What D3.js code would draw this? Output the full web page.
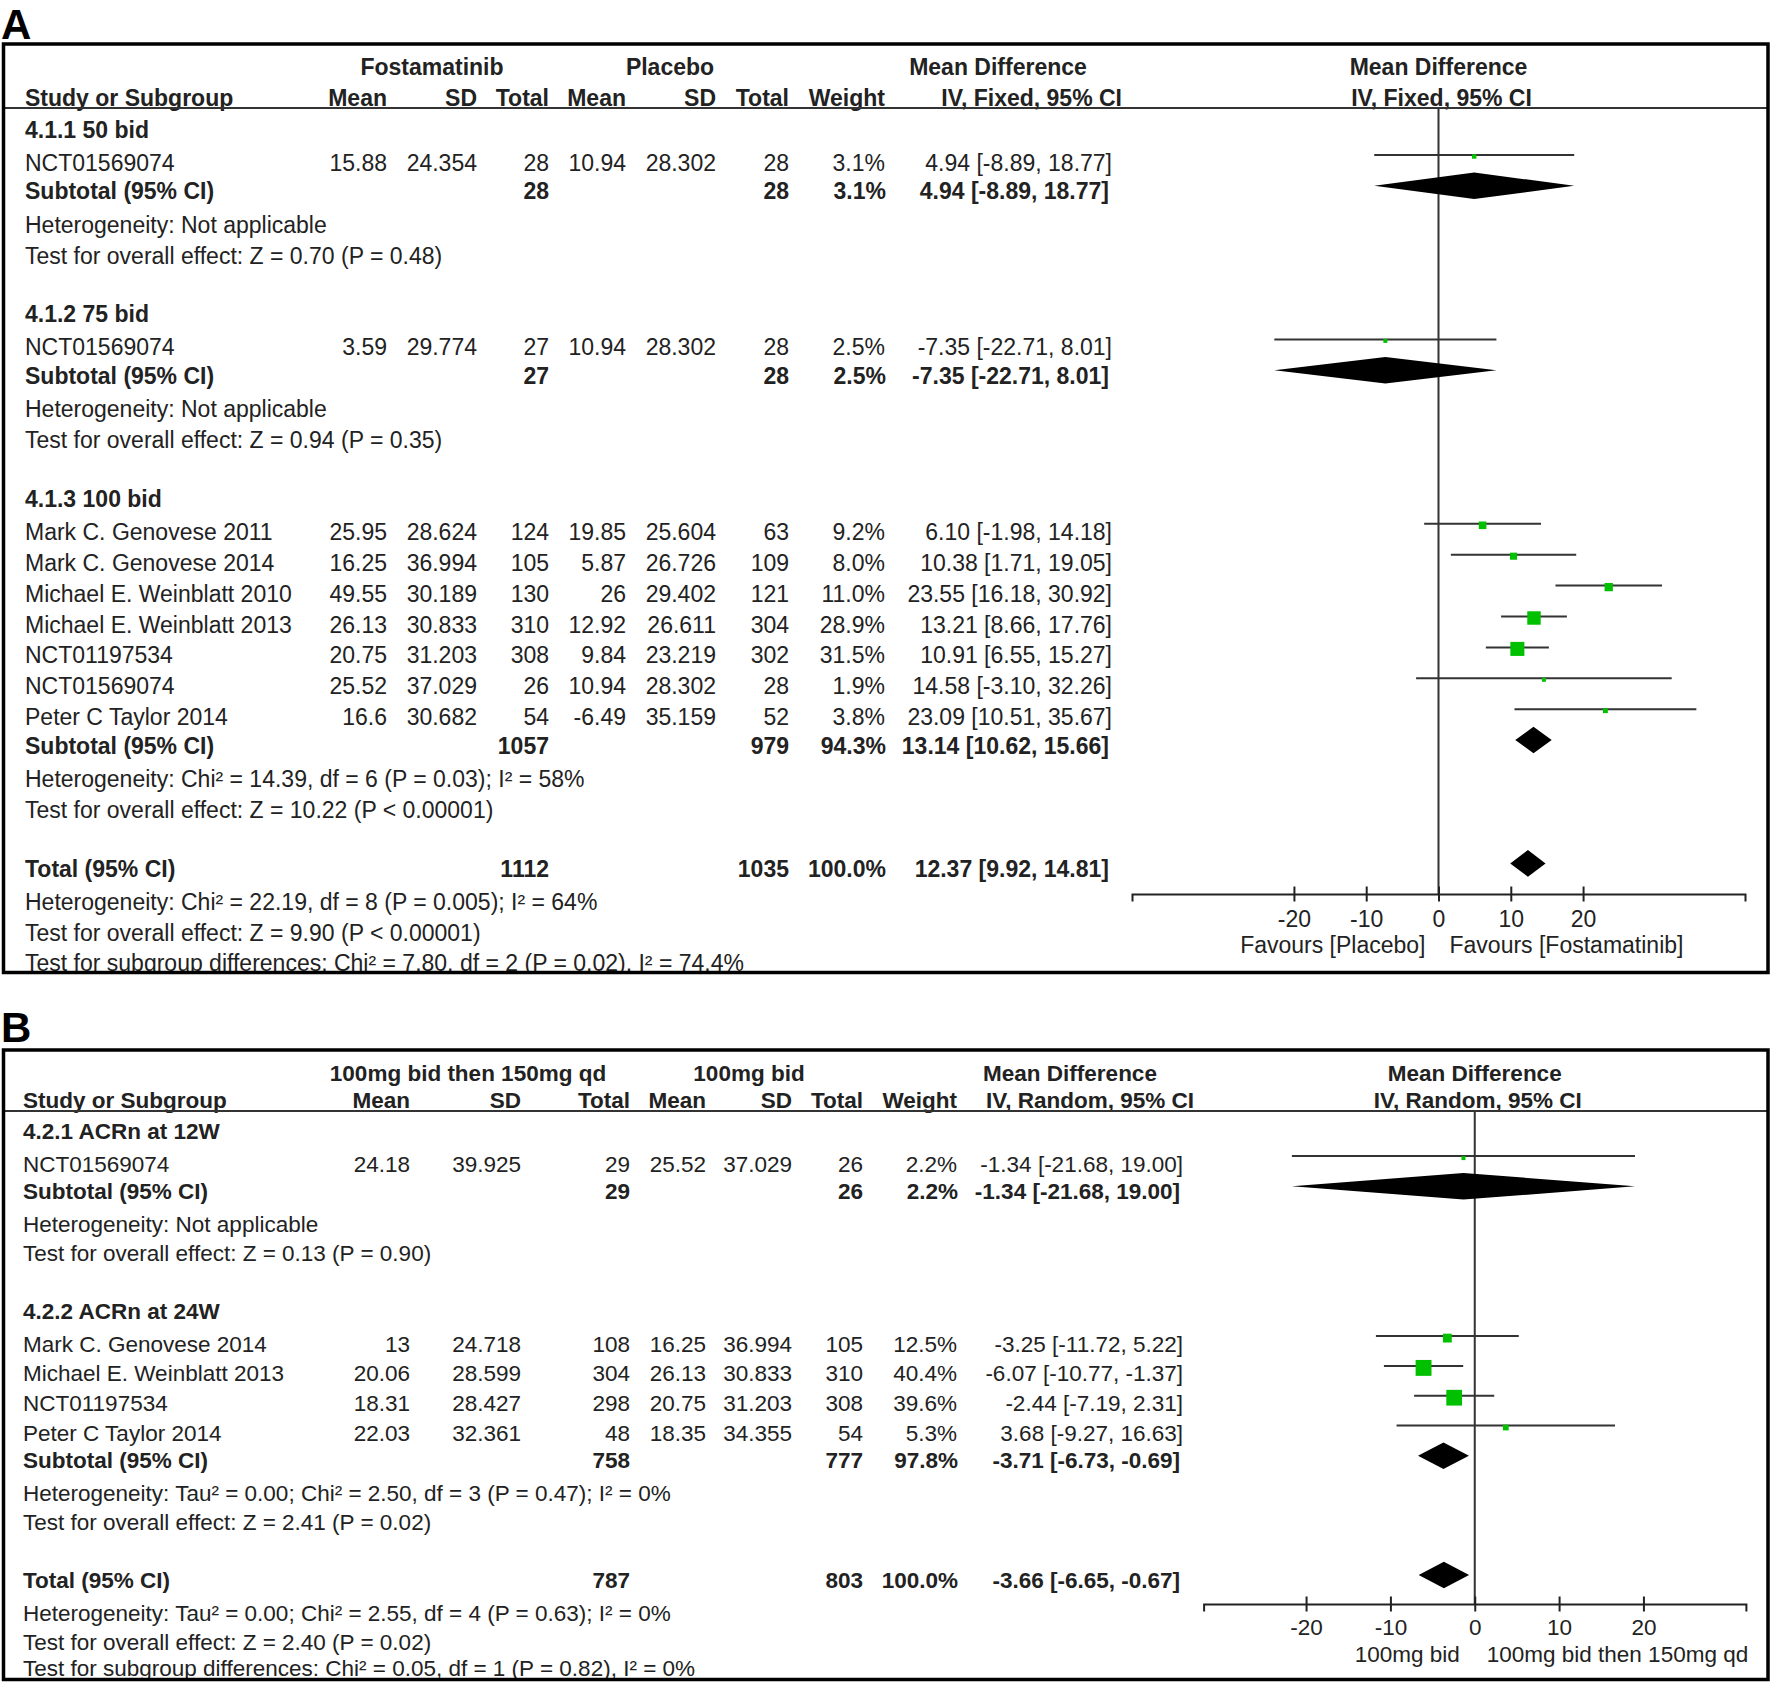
<!DOCTYPE html>
<html>
<head>
<meta charset="utf-8">
<script src="https://cdn.jsdelivr.net/npm/d3@7"></script>
<style>
  body { margin: 0; background: #fff; }
</style>
</head>
<body>
<script>
const W = 1772, H = 1684;
const FONT = "'Liberation Sans', Arial, Helvetica, sans-serif";
const TEXT = "#222";
const GREEN = "#00c000";

// ---------- Panel A: Fostamatinib vs Placebo (IV, Fixed) ----------
const groupsA = ["4.1.1 50 bid", "4.1.2 75 bid", "4.1.3 100 bid"];
const studyA = ["NCT01569074", "NCT01569074", "Mark C. Genovese 2011", "Mark C. Genovese 2014",
  "Michael E. Weinblatt 2010", "Michael E. Weinblatt 2013", "NCT01197534", "NCT01569074", "Peter C Taylor 2014"];
const groupOfA = [0, 1, 2, 2, 2, 2, 2, 2, 2];
const expMeanA = [15.88, 3.59, 25.95, 16.25, 49.55, 26.13, 20.75, 25.52, 16.6];
const expSdA = [24.354, 29.774, 28.624, 36.994, 30.189, 30.833, 31.203, 37.029, 30.682];
const expNA = [28, 27, 124, 105, 130, 310, 308, 26, 54];
const ctlMeanA = [10.94, 10.94, 19.85, 5.87, 26, 12.92, 9.84, 10.94, -6.49];
const ctlSdA = [28.302, 28.302, 25.604, 26.726, 29.402, 26.611, 23.219, 28.302, 35.159];
const ctlNA = [28, 28, 63, 109, 121, 304, 302, 28, 52];
const weightA = [3.1, 2.5, 9.2, 8.0, 11.0, 28.9, 31.5, 1.9, 3.8];
const mdA = [4.94, -7.35, 6.10, 10.38, 23.55, 13.21, 10.91, 14.58, 23.09];
const loA = [-8.89, -22.71, -1.98, 1.71, 16.18, 8.66, 6.55, -3.10, 10.51];
const hiA = [18.77, 8.01, 14.18, 19.05, 30.92, 17.76, 15.27, 32.26, 35.67];
const subExpNA = [28, 27, 1057];
const subCtlNA = [28, 28, 979];
const subWeightA = [3.1, 2.5, 94.3];
const subMdA = [4.94, -7.35, 13.14];
const subLoA = [-8.89, -22.71, 10.62];
const subHiA = [18.77, 8.01, 15.66];
const subHetA = ["Heterogeneity: Not applicable", "Heterogeneity: Not applicable",
  "Heterogeneity: Chi² = 14.39, df = 6 (P = 0.03); I² = 58%"];
const subTestA = ["Test for overall effect: Z = 0.70 (P = 0.48)", "Test for overall effect: Z = 0.94 (P = 0.35)",
  "Test for overall effect: Z = 10.22 (P < 0.00001)"];
const totalA = [1112, 1035, 100.0, 12.37, 9.92, 14.81]; // expN, ctlN, weight, md, lo, hi
const totalHetA = "Heterogeneity: Chi² = 22.19, df = 8 (P = 0.005); I² = 64%";
const totalTestA = "Test for overall effect: Z = 9.90 (P < 0.00001)";
const sgTestA = "Test for subgroup differences: Chi² = 7.80, df = 2 (P = 0.02), I² = 74.4%";
const armsA = ["Fostamatinib", "Placebo"];
const methodA = "IV, Fixed, 95% CI";
const favoursA = ["Favours [Placebo]", "Favours [Fostamatinib]"];
const ticksA = [-20, -10, 0, 10, 20];

// ---------- Panel B: 100mg bid then 150mg qd vs 100mg bid (IV, Random) ----------
const groupsB = ["4.2.1 ACRn at 12W", "4.2.2 ACRn at 24W"];
const studyB = ["NCT01569074", "Mark C. Genovese 2014", "Michael E. Weinblatt 2013", "NCT01197534", "Peter C Taylor 2014"];
const groupOfB = [0, 1, 1, 1, 1];
const expMeanB = [24.18, 13, 20.06, 18.31, 22.03];
const expSdB = [39.925, 24.718, 28.599, 28.427, 32.361];
const expNB = [29, 108, 304, 298, 48];
const ctlMeanB = [25.52, 16.25, 26.13, 20.75, 18.35];
const ctlSdB = [37.029, 36.994, 30.833, 31.203, 34.355];
const ctlNB = [26, 105, 310, 308, 54];
const weightB = [2.2, 12.5, 40.4, 39.6, 5.3];
const mdB = [-1.34, -3.25, -6.07, -2.44, 3.68];
const loB = [-21.68, -11.72, -10.77, -7.19, -9.27];
const hiB = [19.00, 5.22, -1.37, 2.31, 16.63];
const subExpNB = [29, 758];
const subCtlNB = [26, 777];
const subWeightB = [2.2, 97.8];
const subMdB = [-1.34, -3.71];
const subLoB = [-21.68, -6.73];
const subHiB = [19.00, -0.69];
const subHetB = ["Heterogeneity: Not applicable",
  "Heterogeneity: Tau² = 0.00; Chi² = 2.50, df = 3 (P = 0.47); I² = 0%"];
const subTestB = ["Test for overall effect: Z = 0.13 (P = 0.90)", "Test for overall effect: Z = 2.41 (P = 0.02)"];
const totalB = [787, 803, 100.0, -3.66, -6.65, -0.67];
const totalHetB = "Heterogeneity: Tau² = 0.00; Chi² = 2.55, df = 4 (P = 0.63); I² = 0%";
const totalTestB = "Test for overall effect: Z = 2.40 (P = 0.02)";
const sgTestB = "Test for subgroup differences: Chi² = 0.05, df = 1 (P = 0.82), I² = 0%";
const armsB = ["100mg bid then 150mg qd", "100mg bid"];
const methodB = "IV, Random, 95% CI";
const favoursB = ["100mg bid", "100mg bid then 150mg qd"];
const ticksB = [-20, -10, 0, 10, 20];

// ---------- layout ----------
const layoutA = {
  id: "A", letterY: 39, box: [3.5, 44, 1768, 972.5], fontSize: 23,
  head1: 75, head2: 106, sepY: 108,
  labelX: 25, cols: [387, 477, 549, 626, 716, 789, 885, 1112],
  arm1X: 432, arm2X: 670, mdHeadX: 998, methodEnd: 1122,
  xDomain: [-42.4, 42.4], xRange: [1132, 1745], axisY: 894, tickLabelDy: 33, favDy: 59, favGap: [13, 11],
  lineOff: 16, sqOff: 14.5, dmOff: 13.5,
  gaps: { "sep>group": 30, "group>study": 33, "study>study": 30.9, "study>subtotal": 28.3,
    "subtotal>het": 33.2, "het>test": 31.4, "test>group": 58.5, "test>total": 58.8,
    "total>het": 32.7, "test>sgtest": 30.3 }
};
const layoutB = {
  id: "B", letterY: 1042, box: [3.5, 1050, 1768, 1679.5], fontSize: 22.5,
  head1: 1081, head2: 1108, sepY: 1111,
  labelX: 23, cols: [410, 521, 630, 706, 792, 863, 957, 1183],
  arm1X: 468, arm2X: 749, mdHeadX: 1070, methodEnd: 1194,
  xDomain: [-32.15, 32.15], xRange: [1203.6, 1745.9], axisY: 1604, tickLabelDy: 31, favDy: 58, favGap: [15, 12],
  lineOff: 15.5, sqOff: 13.5, dmOff: 12.5,
  gaps: { "sep>group": 28.3, "group>study": 32.3, "study>study": 29.8, "study>subtotal": 27.2,
    "subtotal>het": 32.8, "het>test": 29.2, "test>group": 58.5, "test>total": 57.3,
    "total>het": 33, "test>sgtest": 25.8 }
};

const dataA = { groups: groupsA, study: studyA, groupOf: groupOfA, expMean: expMeanA, expSd: expSdA, expN: expNA,
  ctlMean: ctlMeanA, ctlSd: ctlSdA, ctlN: ctlNA, weight: weightA, md: mdA, lo: loA, hi: hiA,
  subExpN: subExpNA, subCtlN: subCtlNA, subWeight: subWeightA, subMd: subMdA, subLo: subLoA, subHi: subHiA,
  subHet: subHetA, subTest: subTestA, total: totalA, totalHet: totalHetA, totalTest: totalTestA, sgTest: sgTestA,
  arms: armsA, method: methodA, favours: favoursA, ticks: ticksA };
const dataB = { groups: groupsB, study: studyB, groupOf: groupOfB, expMean: expMeanB, expSd: expSdB, expN: expNB,
  ctlMean: ctlMeanB, ctlSd: ctlSdB, ctlN: ctlNB, weight: weightB, md: mdB, lo: loB, hi: hiB,
  subExpN: subExpNB, subCtlN: subCtlNB, subWeight: subWeightB, subMd: subMdB, subLo: subLoB, subHi: subHiB,
  subHet: subHetB, subTest: subTestB, total: totalB, totalHet: totalHetB, totalTest: totalTestB, sgTest: sgTestB,
  arms: armsB, method: methodB, favours: favoursB, ticks: ticksB };

const svg = d3.select("body").append("svg").attr("width", W).attr("height", H);
const defs = svg.append("defs");
const fmtCI = (m, l, h) => `${m.toFixed(2)} [${l.toFixed(2)}, ${h.toFixed(2)}]`;
const fmtW = w => w.toFixed(1) + "%";
const size = d3.scaleSqrt().domain([0, 100]).range([0, 25]);

function drawPanel(L, D) {
  const x = d3.scaleLinear().domain(L.xDomain).range(L.xRange);
  const [bx0, by0, bx1, by1] = L.box;

  // panel letter
  svg.append("text").attr("x", 1).attr("y", L.letterY)
    .attr("font-family", FONT).attr("font-weight", "bold").attr("font-size", 42).attr("fill", "#000")
    .text(L.id);

  defs.append("clipPath").attr("id", "clip" + L.id).append("rect")
    .attr("x", bx0).attr("y", by0).attr("width", bx1 - bx0).attr("height", by1 - by0);
  const t = svg.append("g").attr("clip-path", `url(#clip${L.id})`)
    .attr("font-family", FONT).attr("font-size", L.fontSize).attr("fill", TEXT);

  const put = (str, xx, yy, anchor, bold) => t.append("text").attr("x", xx).attr("y", yy)
    .attr("text-anchor", anchor || "start").attr("font-weight", bold ? "bold" : "normal").text(str);

  // headers
  put(D.arms[0], L.arm1X, L.head1, "middle", true);
  put(D.arms[1], L.arm2X, L.head1, "middle", true);
  put("Mean Difference", L.mdHeadX, L.head1, "middle", true);
  put("Mean Difference", x(0), L.head1, "middle", true);
  put("Study or Subgroup", L.labelX, L.head2, "start", true);
  ["Mean", "SD", "Total", "Mean", "SD", "Total", "Weight"].forEach((h, i) => put(h, L.cols[i], L.head2, "end", true));
  put(D.method, L.methodEnd, L.head2, "end", true);
  put(D.method, x(0) + 3, L.head2, "middle", true);

  // rows
  const rows = [];
  D.groups.forEach((name, gi) => {
    rows.push({ type: "group", gi });
    D.study.forEach((s, i) => { if (D.groupOf[i] === gi) rows.push({ type: "study", i }); });
    rows.push({ type: "subtotal", gi });
    rows.push({ type: "het", text: D.subHet[gi] });
    rows.push({ type: "test", text: D.subTest[gi] });
  });
  rows.push({ type: "total" });
  rows.push({ type: "het", text: D.totalHet });
  rows.push({ type: "test", text: D.totalTest });
  rows.push({ type: "sgtest", text: D.sgTest });
  let y = L.sepY, prev = "sep";
  rows.forEach(r => { y += L.gaps[prev + ">" + r.type]; r.y = y; prev = r.type; });

  const plot = svg.append("g");

  // zero line
  plot.append("line").attr("x1", x(0)).attr("x2", x(0)).attr("y1", L.sepY).attr("y2", L.axisY)
    .attr("stroke", "#333").attr("stroke-width", 2);

  const diamond = (m, l, h, cy) => plot.append("path")
    .attr("d", `M${x(l)},${cy} L${x(m)},${cy - 13.3} L${x(h)},${cy} L${x(m)},${cy + 13.3} Z`)
    .attr("fill", "#000");

  rows.forEach(r => {
    if (r.type === "group") {
      put(D.groups[r.gi], L.labelX, r.y, "start", true);
    } else if (r.type === "study") {
      const i = r.i;
      put(D.study[i], L.labelX, r.y);
      [D.expMean[i], D.expSd[i], D.expN[i], D.ctlMean[i], D.ctlSd[i], D.ctlN[i]]
        .forEach((v, k) => put(String(v), L.cols[k], r.y, "end"));
      put(fmtW(D.weight[i]), L.cols[6], r.y, "end");
      put(fmtCI(D.md[i], D.lo[i], D.hi[i]), L.cols[7], r.y, "end");
      plot.append("line").attr("x1", x(D.lo[i])).attr("x2", x(D.hi[i]))
        .attr("y1", r.y - L.lineOff).attr("y2", r.y - L.lineOff)
        .attr("stroke", "#333").attr("stroke-width", 2);
      const s = Math.max(4, size(D.weight[i]));
      plot.append("rect").attr("x", x(D.md[i]) - s / 2).attr("y", r.y - L.sqOff - s / 2)
        .attr("width", s).attr("height", s).attr("fill", GREEN);
    } else if (r.type === "subtotal") {
      const gi = r.gi;
      put("Subtotal (95% CI)", L.labelX, r.y, "start", true);
      put(String(D.subExpN[gi]), L.cols[2], r.y, "end", true);
      put(String(D.subCtlN[gi]), L.cols[5], r.y, "end", true);
      put(fmtW(D.subWeight[gi]), L.cols[6] + 1, r.y, "end", true);
      put(fmtCI(D.subMd[gi], D.subLo[gi], D.subHi[gi]), L.cols[7] - 3, r.y, "end", true);
      diamond(D.subMd[gi], D.subLo[gi], D.subHi[gi], r.y - L.dmOff);
    } else if (r.type === "total") {
      const T = D.total;
      put("Total (95% CI)", L.labelX, r.y, "start", true);
      put(String(T[0]), L.cols[2], r.y, "end", true);
      put(String(T[1]), L.cols[5], r.y, "end", true);
      put(fmtW(T[2]), L.cols[6] + 1, r.y, "end", true);
      put(fmtCI(T[3], T[4], T[5]), L.cols[7] - 3, r.y, "end", true);
      diamond(T[3], T[4], T[5], r.y - L.dmOff);
    } else {
      put(r.text, L.labelX, r.y);
    }
  });

  // axis with ticks crossing the line
  const ax = plot.append("g").attr("transform", `translate(0,${L.axisY})`)
    .call(d3.axisBottom(x).tickValues(D.ticks).tickSizeOuter(0).tickSize(7.5).tickFormat(d => String(d)));
  ax.select(".domain").attr("stroke", "#222").attr("stroke-width", 2);
  ax.selectAll(".tick line").attr("y1", -7.5).attr("y2", 7.5).attr("stroke", "#222").attr("stroke-width", 2);
  ax.selectAll(".tick text").attr("y", L.tickLabelDy).attr("dy", 0)
    .attr("font-family", FONT).attr("font-size", L.fontSize).attr("fill", TEXT);
  ax.attr("font-family", null).attr("font-size", null);

  plot.append("text").attr("x", x(0) - L.favGap[0]).attr("y", L.axisY + L.favDy).attr("text-anchor", "end")
    .attr("font-family", FONT).attr("font-size", L.fontSize).attr("fill", TEXT).text(D.favours[0]);
  plot.append("text").attr("x", x(0) + L.favGap[1]).attr("y", L.axisY + L.favDy).attr("text-anchor", "start")
    .attr("font-family", FONT).attr("font-size", L.fontSize).attr("fill", TEXT).text(D.favours[1]);

  // header separator and frame
  svg.append("line").attr("x1", bx0).attr("x2", bx1).attr("y1", L.sepY).attr("y2", L.sepY)
    .attr("stroke", "#333").attr("stroke-width", 2);
  svg.append("rect").attr("x", bx0).attr("y", by0).attr("width", bx1 - bx0).attr("height", by1 - by0)
    .attr("fill", "none").attr("stroke", "#000").attr("stroke-width", 3.5);
}

drawPanel(layoutA, dataA);
drawPanel(layoutB, dataB);
</script>
</body>
</html>
